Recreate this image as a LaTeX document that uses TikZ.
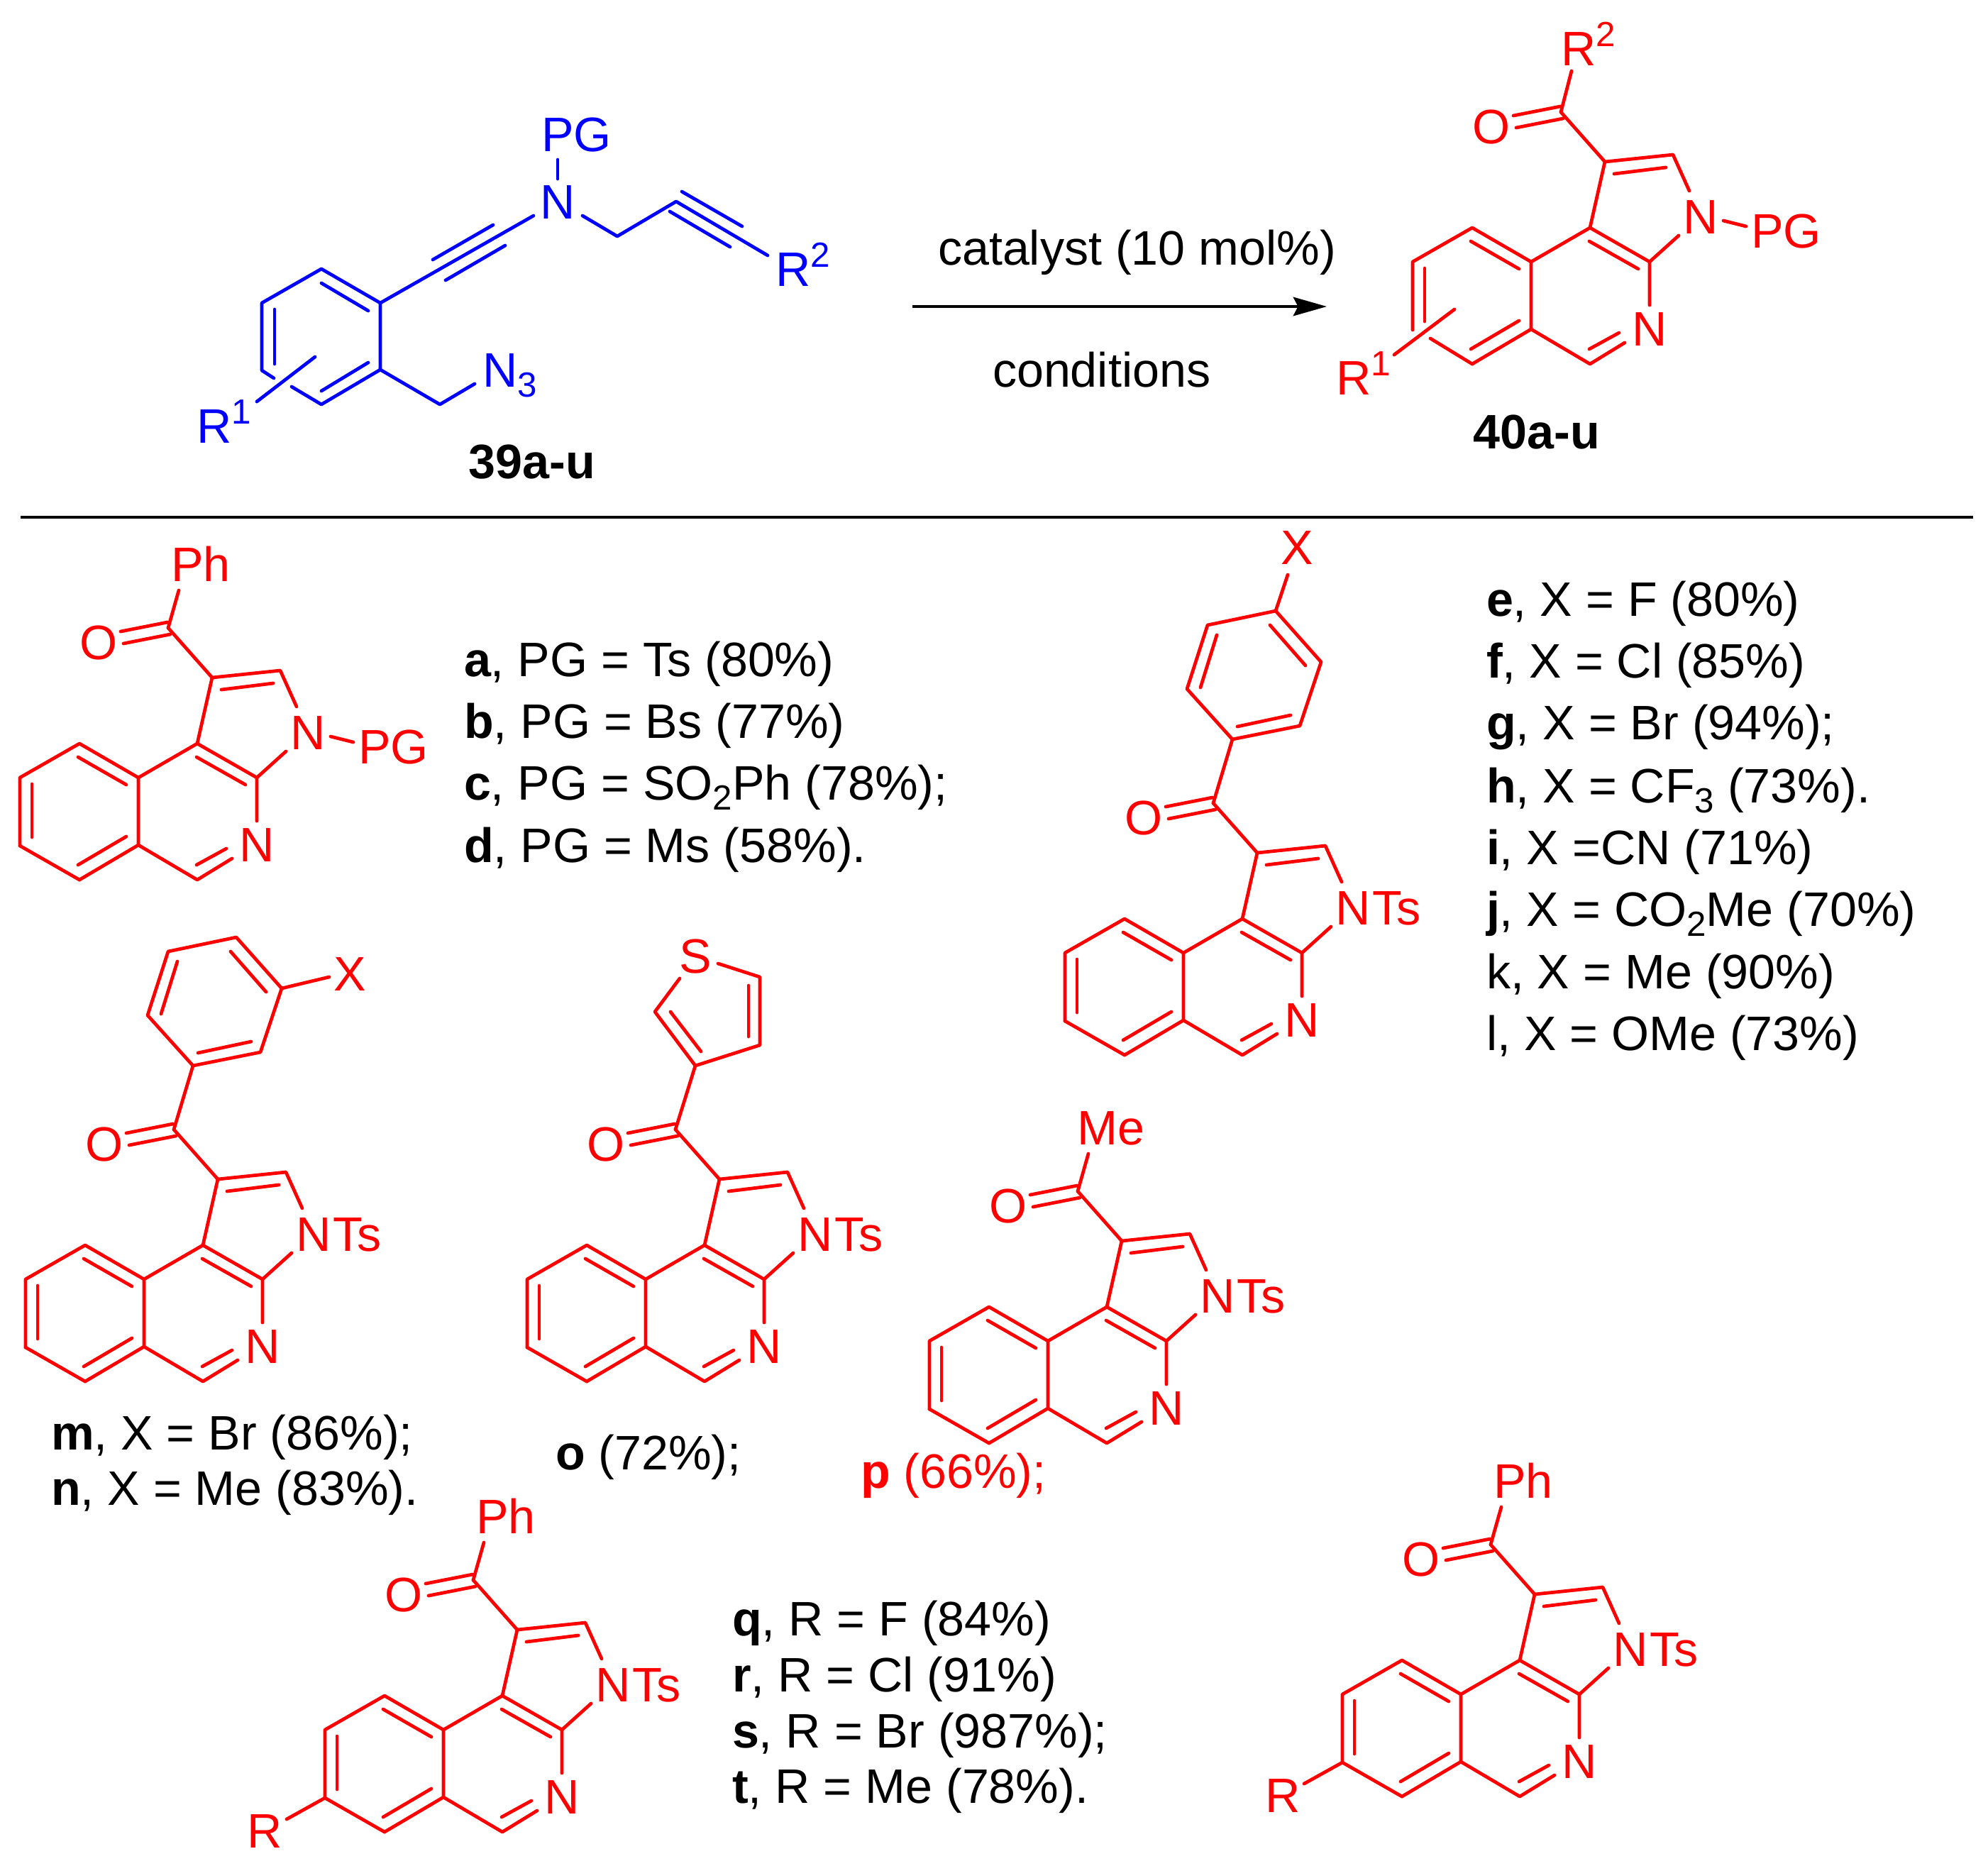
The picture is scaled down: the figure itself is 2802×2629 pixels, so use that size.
\documentclass[tikz,border=0pt]{standalone}
\usepackage{fontspec}
\setmainfont{Liberation Sans}
\usetikzlibrary{arrows.meta}
\newcommand{\supidx}[1]{\raisebox{7.4pt}{\fontsize{14}{14}\selectfont #1}}
\newcommand{\subidx}[1]{\raisebox{-4pt}{\fontsize{14}{14}\selectfont #1}}
\newcommand{\nts}{N\kern0.8pt Ts}
\tikzset{
  bond/.style={draw=red, line width=1.35pt, line cap=round, line join=round},
  blubond/.style={bond, draw=blue},
  atom/.style={text=red, anchor=base},
  tail/.style={text=red, anchor=base west},
  bluatom/.style={text=blue, anchor=base},
  blutail/.style={text=blue, anchor=base west},
  txt/.style={anchor=base west},
  pics/core/.style={code={
    \coordinate (-j1) at (0,0);
    \coordinate (-j2) at (0,95);
    \coordinate (-a1) at (-83,-48);
    \coordinate (-a5) at (-83,144);
    \coordinate (-a6) at (-167,96);
    \coordinate (-a7) at (-167,0);
    \coordinate (-c9) at (83,-48);
    \coordinate (-c9a) at (167,0);
    \coordinate (-c4) at (83,144);
    \coordinate (-p3) at (104,-141);
    \coordinate (-p2) at (200,-151);
    \coordinate (-co) at (42,-211);
    \coordinate (-cs) at (57,-264);
    \coordinate (-nb) at (167,61);
    \coordinate (-nc) at (132,114);
    \coordinate (-np) at (223,-100);
    \coordinate (-nq) at (208,-37);
    \node[atom] (-n) at (167,118) {N};
    \node[atom] (-o) at (-56,-167) {O};
    \node[tail] (-nt) at (214,-40) {#1};
    \draw[bond] (-a6) -- (-a7) -- (-a1) -- (-j1) -- (-j2) -- (-a5);
    \draw[bond] (-j1) -- (-c9) -- (-c9a) -- (-nb);
    \draw[bond] (-j2) -- (-c4) -- (-nc);
    \draw[bond] (-c9) -- (-p3) -- (-p2) -- (-np);
    \draw[bond] (-c9a) -- (-nq);
    \draw[bond] (-p3) -- (-co);
    \draw[bond] (-85,-29) -- (-17,10);
    \draw[bond] (-150,9) -- (-150,84);
    \draw[bond] (-17,83) -- (-85,123);
    \draw[bond] (82,-29) -- (151,10);
    \draw[bond] (82,123) -- (124,100);
    \draw[bond] (117,-124) -- (190,-133);
    \draw[bond] (-25,-206) -- (41,-219);
    \draw[bond] (-21,-189) -- (45,-202);
  }},
  pics/npg/.style={code={
    \coordinate (-s) at (271,-58);
    \coordinate (-e) at (303,-50);
    \node[tail] (-pg) at (310,-20) {PG};
    \draw[bond] (-s) -- (-e);
  }},
  pics/benz/.style={code={
    \coordinate (-co) at (42,-211);
    \coordinate (-r1) at (69,-301);
    \coordinate (-r2) at (164,-320);
    \coordinate (-r3) at (194,-410);
    \coordinate (-r4) at (130,-482);
    \coordinate (-r5) at (34,-462);
    \coordinate (-r6) at (5,-372);
    \draw[bond] (-co) -- (-r1) -- (-r2) -- (-r3) -- (-r4) -- (-r5) -- (-r6) -- (-r1);
    \draw[bond] (122,-462) -- (172,-405);
    \draw[bond] (47,-448) -- (24,-374);
    \draw[bond] (76,-319) -- (151,-335);
  }},
}
\begin{document}
\begin{tikzpicture}[
		x=0.01cm, y=-0.01cm,
		every node/.style={inner sep=0pt, outer sep=0pt, font=\fontsize{19.4}{22}\selectfont}
	]
  \useasboundingbox (0,0) rectangle (2802,2629);
  % reactant
  \coordinate (b1) at (453,379);
  \coordinate (b2) at (536,427);
  \coordinate (b3) at (536,521);
  \coordinate (b4) at (453,570);
  \coordinate (b5) at (369,522);
  \coordinate (b6) at (369,427);
  \coordinate (b5s) at (386,533);
  \coordinate (b4s) at (411,545);
  \coordinate (yn1) at (752,304);
  \coordinate (ch2) at (870,333);
  \coordinate (nr) at (821,304);
  \coordinate (yn2) at (953,284);
  \coordinate (yn3) at (1082,360);
  \coordinate (cn3) at (620,570);
  \coordinate (en3) at (669,541);
  \coordinate (npg1) at (786,225);
  \coordinate (npg2) at (786,252);
  \coordinate (r1a) at (362,566);
  \coordinate (r1b) at (444,503);
  \node (nb) [bluatom] at (786,308) {N};
  \node (pgb) [blutail] at (763,213) {PG};
  \node (n3b) [blutail] at (680,545) {N\subidx{3}};
  \node (r1l) [blutail] at (277,624) {R\supidx{1}};
  \node (r2l) [blutail] at (1093,403) {R\supidx{2}};
  \draw[blubond] (b5s) -- (b5) -- (b6) -- (b1) -- (b2) -- (b3) -- (b4) -- (b4s);
  \draw[blubond] (b2) -- (yn1);
  \draw[blubond] (b3) -- (cn3) -- (en3);
  \draw[blubond] (nr) -- (ch2) -- (yn2) -- (yn3);
  \draw[blubond] (npg1) -- (npg2);
  \draw[blubond] (r1a) -- (r1b);
  \draw[blubond] (453,399) -- (519,438);
  \draw[blubond] (387,436) -- (387,513);
  \draw[blubond] (519,511) -- (453,551);
  \draw[blubond] (610,366) -- (695,317);
  \draw[blubond] (628,395) -- (712,346);
  \draw[blubond] (961,270) -- (1046,319);
  \draw[blubond] (944,298) -- (1029,348);
  \node (l39) [anchor=base] at (750,674) {\textbf{39a-u}};
  % arrow
  \coordinate (ar0) at (1286,432);
  \coordinate (ar1) at (1870,432);
  \draw[-{Stealth[length=13.4pt, width=7.5pt, inset=1.9pt]}, line width=1.35pt] (ar0) -- (ar1);
  \node (cat) [txt] at (1322,373) {catalyst (10 mol\%)};
  \node (cnd) [txt] at (1399,545) {conditions};
  % product
  \pic (t) at (2158,369) {core=N};
  \pic (tg) at (2158,369) {npg};
  \coordinate (ts6) at (2016,477);
  \coordinate (tr1) at (1965,500);
  \coordinate (tr2) at (2050,436);
  \coordinate (tr3) at (2215,100);
  \node (tr1l) [tail] at (1883,556) {R\supidx{1}};
  \node (tr2l) [tail] at (2200,92) {R\supidx{2}};
  \draw[bond] (ts6) -- (t-a5);
  \draw[bond] (tr1) -- (tr2);
  \draw[bond] (t-co) -- (tr3);
  \node (l40) [anchor=base] at (2166,632) {\textbf{40a-u}};
  % separator
  \coordinate (s0) at (29,729);
  \coordinate (s1) at (2781,729);
  \draw[line width=1.35pt] (s0) -- (s1);
  % a-d
  \pic (a) at (195,1096) {core=N};
  \pic (ag) at (195,1096) {npg};
  \node (aph) [atom] at (283,819) {Ph};
  \draw[bond] (a-co) -- (a-cs);
  \node (la) [txt] at (654,953) {\textbf{a}, PG = Ts (80\%)};
  \node (lb) [txt] at (654,1040) {\textbf{b}, PG = Bs (77\%)};
  \node (lc) [txt] at (654,1127) {\textbf{c}, PG = SO\subidx{2}Ph (78\%);};
  \node (ld) [txt] at (654,1215) {\textbf{d}, PG = Ms (58\%).};
  % e-l
  \pic (e) at (1668,1343) {core=\nts};
  \pic (eb) at (1668,1343) {benz};
  \coordinate (ex) at (1815,810);
  \node (exl) [atom] at (1828,795) {X};
  \draw[bond] (eb-r4) -- (ex);
  \node (le) [txt] at (2095,868) {\textbf{e}, X = F (80\%)};
  \node (lf) [txt] at (2095,955) {\textbf{f}, X = Cl (85\%)};
  \node (lg) [txt] at (2095,1042) {\textbf{g}, X = Br (94\%);};
  \node (lh) [txt] at (2095,1131) {\textbf{h}, X = CF\subidx{3} (73\%).};
  \node (li) [txt] at (2095,1218) {\textbf{i}, X =CN (71\%)};
  \node (lj) [txt] at (2095,1305) {\textbf{j}, X = CO\subidx{2}Me (70\%)};
  \node (lk) [txt] at (2095,1393) {k, X = Me (90\%)};
  \node (ll) [txt] at (2095,1480) {l, X = OMe (73\%)};
  % m, n
  \pic (m) at (203,1803) {core=\nts};
  \pic (mb) at (203,1803) {benz};
  \coordinate (mx) at (464,1377);
  \node (mxl) [atom] at (493,1396) {X};
  \draw[bond] (mb-r3) -- (mx);
  \node (lm) [txt] at (72,2043) {\textbf{m}, X = Br (86\%);};
  \node (ln) [txt] at (72,2121) {\textbf{n}, X = Me (83\%).};
  % o
  \pic (o) at (910,1803) {core=\nts};
  \coordinate (o1) at (980,1502);
  \coordinate (o2) at (1071,1473);
  \coordinate (o3) at (1071,1377);
  \coordinate (o4) at (1012,1358);
  \coordinate (o5) at (958,1379);
  \coordinate (o6) at (923,1426);
  \node (os) [atom] at (980,1371) {S};
  \draw[bond] (o-co) -- (o1) -- (o2) -- (o3) -- (o4);
  \draw[bond] (o5) -- (o6) -- (o1);
  \draw[bond] (988,1482) -- (945,1426);
  \draw[bond] (1055,1389) -- (1055,1461);
  \node (lo) [txt] at (783,2071) {\textbf{o} (72\%);};
  % p
  \pic (p) at (1477,1890) {core=\nts};
  \node (pme) [atom] at (1566,1613) {Me};
  \draw[bond] (p-co) -- (p-cs);
  \node (lp) [txt, text=red] at (1213,2097) {\textbf{p} (66\%);};
  % q-t
  \pic (q) at (625,2438) {core=\nts};
  \node (qph) [atom] at (713,2161) {Ph};
  \coordinate (qr) at (404,2564);
  \node (qrl) [atom] at (373,2604) {R};
  \draw[bond] (q-co) -- (q-cs);
  \draw[bond] (q-a6) -- (qr);
  \node (lq) [txt] at (1032,2305) {\textbf{q}, R = F (84\%)};
  \node (lr) [txt] at (1032,2384) {\textbf{r}, R = Cl (91\%)};
  \node (ls) [txt] at (1032,2463) {\textbf{s}, R = Br (987\%);};
  \node (lt) [txt] at (1032,2541) {\textbf{t}, R = Me (78\%).};
  % u
  \pic (u) at (2059,2388) {core=\nts};
  \node (uph) [atom] at (2147,2111) {Ph};
  \coordinate (ur) at (1838,2514);
  \node (url) [atom] at (1808,2554) {R};
  \draw[bond] (u-co) -- (u-cs);
  \draw[bond] (u-a6) -- (ur);
  \foreach \n in {a,e,m,o,p,q,u} \draw[bond] (\n-a6) -- (\n-a5);
\end{tikzpicture}
\end{document}
